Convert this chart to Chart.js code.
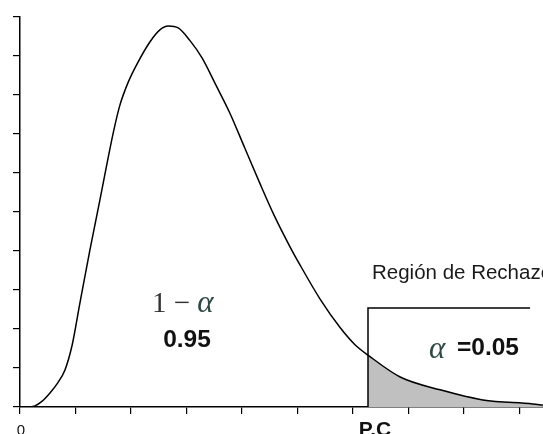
<!DOCTYPE html>
<html>
<head>
<meta charset="utf-8">
<script src="https://cdn.jsdelivr.net/npm/chart.js@4.4.0/dist/chart.umd.min.js"></script>
<style>
  html, body { margin: 0; padding: 0; background: #ffffff; }
  #wrap { width: 543px; height: 434px; position: relative; }
</style>
</head>
<body>
<div id="wrap"><canvas id="c" width="543" height="434"></canvas></div>
<script>
// ---- data ----
const xValues = [0, 0.14, 0.27, 0.40, 0.54, 0.68, 0.81, 0.94, 1.08, 1.26, 1.44, 1.68, 1.80, 1.95, 2.11, 2.34, 2.52, 2.67, 2.85, 3.06, 3.28, 3.51, 3.78, 4.05, 4.32, 4.59, 4.86, 5.05, 5.41, 5.77, 6.04, 6.27, 6.85, 7.57, 8.34, 9.24, 9.42];
const densityValues = [0, 0, 0.03, 0.15, 0.36, 0.62, 0.95, 1.59, 2.67, 4.03, 5.31, 7.03, 7.74, 8.33, 8.80, 9.36, 9.67, 9.77, 9.72, 9.40, 8.95, 8.31, 7.54, 6.64, 5.74, 4.88, 4.12, 3.63, 2.76, 2.03, 1.59, 1.33, 0.77, 0.44, 0.18, 0.08, 0.05];
const criticalPoint = 6.27;          // P.C
const boxTop = 2.54;                 // height of the rejection-region bracket
const boxEnd = 9.19;                 // right end of the bracket
const xTickValues = [0, 1, 2, 3, 4, 5, 6, 7, 8, 9];
const yTickValues = [0, 1, 2, 3, 4, 5, 6, 7, 8, 9, 10];
const labels = {
  region: 'Región de Rechazo',
  confidence: '0.95',
  alphaValue: '=0.05',
  pc: 'P.C',
  zero: '0'
};

const curve = xValues.map((x, i) => ({ x: x, y: densityValues[i] }));
const tail = curve.filter(p => p.x >= criticalPoint);
const bracket = [{ x: criticalPoint, y: 0 }, { x: criticalPoint, y: boxTop }, { x: boxEnd, y: boxTop }];

const textPlugin = {
  id: 'texts',
  afterDraw(chart) {
    const ctx = chart.ctx;
    const xs = chart.scales.x;
    ctx.save();
    ctx.textBaseline = 'alphabetic';
    // Región de Rechazo
    ctx.fillStyle = '#1a1a1a';
    ctx.font = '20.5px "Liberation Sans", Arial, sans-serif';
    ctx.textAlign = 'left';
    ctx.fillText(labels.region, 372, 279);
    // 1 − α
    ctx.fillStyle = '#333333';
    ctx.font = '29px "Liberation Serif", "DejaVu Serif", serif';
    ctx.fillText('1 \u2212 ', 152, 312);
    const w = ctx.measureText('1 \u2212 ').width;
    ctx.fillStyle = '#2f4a44';
    ctx.font = 'italic 31px "Liberation Serif", "DejaVu Serif", serif';
    ctx.fillText('\u03B1', 152 + w, 312);
    // 0.95
    ctx.fillStyle = '#111111';
    ctx.font = 'bold 24.5px "Liberation Sans", Arial, sans-serif';
    ctx.textAlign = 'center';
    ctx.fillText(labels.confidence, 187, 347);
    // α =0.05
    ctx.textAlign = 'left';
    ctx.fillStyle = '#2f4a44';
    ctx.font = 'italic 31px "Liberation Serif", "DejaVu Serif", serif';
    ctx.fillText('\u03B1', 429, 358);
    ctx.fillStyle = '#111111';
    ctx.font = 'bold 24.5px "Liberation Sans", Arial, sans-serif';
    ctx.fillText(labels.alphaValue, 457, 355);
    // axis labels
    ctx.textAlign = 'center';
    ctx.font = 'bold 21px "Liberation Sans", Arial, sans-serif';
    ctx.fillText(labels.pc, xs.getPixelForValue(criticalPoint) + 7, 436);
    ctx.font = '15px "Liberation Sans", Arial, sans-serif';
    ctx.fillText(labels.zero, xs.getPixelForValue(0) + 1, 435);
    ctx.restore();
  }
};

new Chart(document.getElementById('c'), {
  type: 'line',
  data: {
    datasets: [
      {
        data: tail,
        borderWidth: 0,
        borderColor: 'rgba(0,0,0,0)',
        backgroundColor: '#c0c0c0',
        fill: 'origin',
        pointRadius: 0,
        cubicInterpolationMode: 'monotone',
        order: 3
      },
      {
        data: curve,
        borderColor: '#000000',
        borderWidth: 1.5,
        fill: false,
        pointRadius: 0,
        cubicInterpolationMode: 'monotone',
        order: 1
      },
      {
        data: bracket,
        borderColor: '#000000',
        borderWidth: 1.5,
        fill: false,
        pointRadius: 0,
        tension: 0,
        order: 2
      }
    ]
  },
  options: {
    responsive: false,
    animation: false,
    devicePixelRatio: 1,
    layout: { padding: { left: 13, top: 17, right: 0, bottom: 20 } },
    plugins: { legend: { display: false }, tooltip: { enabled: false } },
    scales: {
      x: {
        type: 'linear',
        min: 0,
        max: 9.423,
        afterBuildTicks: (s) => { s.ticks = xTickValues.map(v => ({ value: v })); },
        ticks: { display: false, includeBounds: false },
        grid: { drawOnChartArea: false, tickLength: 7, color: '#000000', lineWidth: 1.2 },
        border: { display: true, color: '#000000', width: 1.5 }
      },
      y: {
        type: 'linear',
        min: 0,
        max: 10,
        afterBuildTicks: (s) => { s.ticks = yTickValues.map(v => ({ value: v })); },
        ticks: { display: false },
        grid: { drawOnChartArea: false, tickLength: 7, color: '#000000', lineWidth: 1.2 },
        border: { display: true, color: '#000000', width: 1.5 }
      }
    }
  },
  plugins: [textPlugin]
});
</script>
</body>
</html>
